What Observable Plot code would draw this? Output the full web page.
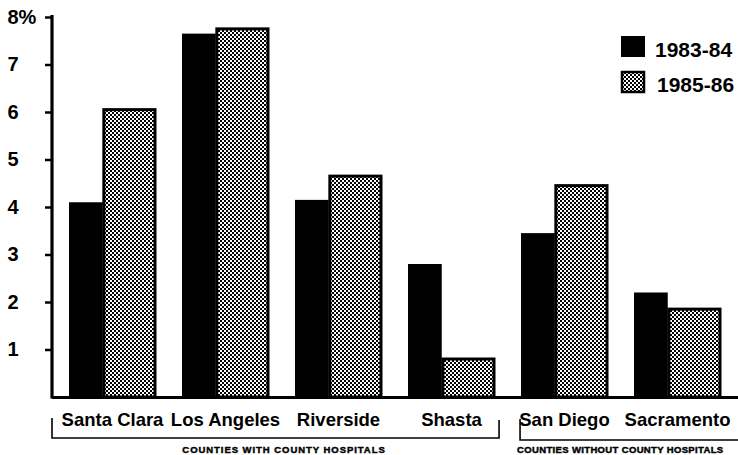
<!DOCTYPE html>
<html><head><meta charset="utf-8">
<script src="https://cdn.jsdelivr.net/npm/d3@7"></script>
<script src="https://cdn.jsdelivr.net/npm/@observablehq/plot@0.6"></script>
<style>
body{margin:0;background:#fff;}
#chart{position:relative;width:738px;height:455px;overflow:hidden;}
#chart svg{font-family:"Liberation Sans",Arial,Helvetica,sans-serif;}
</style></head><body><div id="chart"></div>
<script>
const counties = ["Santa Clara","Los Angeles","Riverside","Shasta","San Diego","Sacramento"];
const years = ["1983-84","1985-86"];
const values8384 = [4.1, 7.65, 4.15, 2.8, 3.45, 2.2];
const values8586 = [6.05, 7.75, 4.65, 0.8, 4.45, 1.85];
const yTicks = [1,2,3,4,5,6,7,8];
const groupLabels = ["COUNTIES WITH COUNTY HOSPITALS","COUNTIES WITHOUT COUNTY HOSPITALS"];
const groupSizes = [4, 2];

const W = 738, H = 455, mL = 52, mR = 0, mT = 17, mB = 58;
const padIn = 0.235, padOut = 0.13;
const bw = d3.scaleBand().domain(counties).range([mL, W - mR]).paddingInner(padIn).paddingOuter(padOut).bandwidth();

const data = counties.map((c, i) => ({county: c, a: values8384[i], b: values8586[i]}));

const plot = Plot.plot({
  width: W, height: H,
  marginLeft: mL, marginRight: mR, marginTop: mT, marginBottom: mB,
  style: {fontFamily: '"Liberation Sans", Arial, sans-serif', background: "#fff", color: "#000"},
  x: {type: "band", domain: counties, paddingInner: padIn, paddingOuter: padOut, axis: null, label: null},
  y: {domain: [0, 8], axis: null, label: null},
  marks: [
    Plot.barY(data, {x: "county", y: "a", fill: "black", insetRight: bw * 0.6}),
    Plot.barY(data, {x: "county", y: "b", fill: "url(#hatch)", stroke: "black", strokeWidth: 3, insetLeft: bw * 0.4}),
    Plot.ruleY([0], {stroke: "black", strokeWidth: 3}),
    Plot.axisY({ticks: yTicks, tickSize: 7, tickPadding: 38, textAnchor: "start", strokeWidth: 2.5,
      tickFormat: d => d === 8 ? "8%" : String(d), fontSize: 20, fontWeight: "bold", label: null}),
    Plot.axisX({tickSize: 0, tickPadding: 15, fontSize: 18.5, fontWeight: "bold", label: null})
  ]
});

document.getElementById("chart").appendChild(plot);
const svg = d3.select(plot);
const xs = plot.scale("x"), ys = plot.scale("y");

// pattern
const defs = svg.insert("defs", ":first-child");
const pat = defs.append("pattern").attr("id", "hatch").attr("patternUnits", "userSpaceOnUse")
  .attr("width", 4).attr("height", 4);
pat.append("rect").attr("width", 4).attr("height", 4).attr("fill", "#fff");
pat.append("rect").attr("width", 2).attr("height", 2).attr("fill", "#000");
pat.append("rect").attr("x", 2).attr("y", 2).attr("width", 2).attr("height", 2).attr("fill", "#000");

// y axis line
svg.append("line").attr("x1", mL).attr("x2", mL).attr("y1", ys.apply(8) - 2).attr("y2", ys.apply(0) + 1.5)
  .attr("stroke", "black").attr("stroke-width", 3.2);

// group brackets
const bandStart = c => xs.apply(c);
const gapMid = (bandStart(counties[3]) + bw + bandStart(counties[4])) / 2;
const y0 = ys.apply(0);
const g = svg.append("g").attr("stroke", "black").attr("stroke-width", 1.6).attr("fill", "none");
g.append("path").attr("d", `M${mL},${y0 + 21}V${y0 + 41}H${gapMid - 9}V${y0 + 23}`);
g.append("path").attr("d", `M${gapMid + 12},${y0 + 22}V${y0 + 43}H${W}`);
const t = svg.append("g").attr("font-size", 9.5).attr("font-weight", "bold")
  .attr("fill", "black").attr("stroke", "black").attr("stroke-width", 0.45);
t.append("text").attr("x", (mL + gapMid) / 2 + 4).attr("y", H - 2).attr("text-anchor", "middle")
  .attr("letter-spacing", 0.95).text(groupLabels[0]);
t.append("text").attr("x", gapMid + 9).attr("y", H - 2).attr("text-anchor", "start")
  .attr("letter-spacing", 0.35).text(groupLabels[1]);

// legend
const lg = svg.append("g").attr("font-size", 21).attr("font-weight", "bold").attr("text-anchor", "start");
lg.append("rect").attr("x", 621).attr("y", 36).attr("width", 24).attr("height", 21).attr("fill", "black");
lg.append("text").attr("x", 655).attr("y", 57).text(years[0]);
lg.append("rect").attr("x", 622).attr("y", 72).attr("width", 22).attr("height", 20).attr("fill", "url(#hatch)").attr("stroke", "black").attr("stroke-width", 2.5);
lg.append("text").attr("x", 657).attr("y", 92).text(years[1]);
</script></body></html>
